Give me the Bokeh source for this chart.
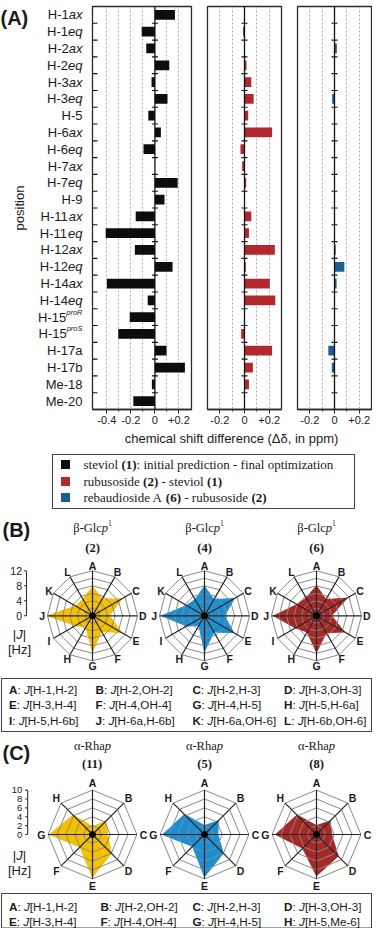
import math
import re
from collections import defaultdict
from bokeh.plotting import figure
from bokeh.layouts import column, row
from bokeh.models import Range1d, FixedTicker, CustomJSTickFormatter, Span, ColumnDataSource
from bokeh.core.properties import value
from bokeh.embed import file_html
from bokeh.resources import INLINE

# ---------------- data ----------------
positions = ["H-1ax", "H-1eq", "H-2ax", "H-2eq", "H-3ax", "H-3eq", "H-5", "H-6ax", "H-6eq",
             "H-7ax", "H-7eq", "H-9", "H-11ax", "H-11eq", "H-12ax", "H-12eq", "H-14ax",
             "H-14eq", "H-15proR", "H-15proS", "H-17a", "H-17b", "Me-18", "Me-20"]
steviol_pred_minus_opt = [0.167, -0.11, -0.072, 0.12, -0.028, 0.105, -0.055, 0.05, -0.095, 0.0,
                          0.19, 0.08, -0.16, -0.41, -0.167, 0.147, -0.40, -0.06, -0.21, -0.305,
                          0.097, 0.25, -0.025, -0.18]
rubusoside_minus_steviol = [0.0, -0.012, 0.0, 0.016, 0.055, 0.074, 0.03, 0.224, -0.033, -0.019,
                            0.014, 0.003, 0.055, 0.036, 0.246, 0.011, 0.205, 0.25, 0.004, -0.027,
                            0.224, 0.068, 0.036, 0.003]
rebA_minus_rubusoside = [0.0, 0.004, 0.019, 0.0, 0.0, -0.019, 0.0, 0.0, 0.0, 0.003, 0.0, 0.003,
                         0.004, 0.003, 0.01, 0.08, 0.017, 0.003, 0.0, 0.002, -0.05, -0.022, 0.0, 0.0]
legend_labels = ["steviol (1): initial prediction - final optimization",
                 "rubusoside (2) - steviol (1)",
                 "rebaudioside A (6) - rubusoside (2)"]
x_title = "chemical shift difference (\u0394\u03b4, in ppm)"

glc_axes = list("ABCDEFGHIJKL")
glc_couplings = ["H-1,H-2", "H-2,OH-2", "H-2,H-3", "H-3,OH-3", "H-3,H-4", "H-4,OH-4",
                 "H-4,H-5", "H-5,H-6a", "H-5,H-6b", "H-6a,H-6b", "H-6a,OH-6", "H-6b,OH-6"]
glc_compounds = ["2", "4", "6"]
glc_2 = [7.8, 5.2, 9.0, 4.5, 9.0, 4.8, 9.6, 3.5, 5.2, 12.0, 5.2, 5.1]
glc_4 = [7.9, 5.0, 9.2, 5.3, 9.0, 5.0, 9.5, 3.0, 5.5, 11.4, 5.5, 5.0]
glc_6 = [8.0, 5.0, 9.4, 4.0, 8.6, 5.2, 9.7, 5.0, 6.5, 11.4, 6.0, 5.5]
glc_scale = [0, 4, 8, 12]

rha_axes = list("ABCDEFGH")
rha_couplings = ["H-1,H-2", "H-2,OH-2", "H-2,H-3", "H-3,OH-3", "H-3,H-4", "H-4,OH-4",
                 "H-4,H-5", "H-5,Me-6"]
rha_compounds = ["11", "5", "8"]
rha_11 = [1.8, 4.2, 3.4, 6.0, 9.6, 4.0, 9.7, 6.2]
rha_5 = [2.0, 4.4, 3.0, 6.0, 9.5, 3.8, 9.4, 6.4]
rha_8 = [2.0, 4.3, 3.4, 6.9, 9.3, 4.4, 9.2, 6.2]
rha_scale = [0, 2, 4, 6, 8, 10]

# ---------------- style ----------------
SANS_F = "Liberation Sans"
SERIF_F = "Liberation Serif"
TXT = "#1a1a1a"
BLACK, RED, BLUE = "#0d0d0d", "#B3282D", "#1B5E8F"
RADAR_COLORS = ["#F5C000", "#1A8FD3", "#A82828"]

SANS = {' ': 278, '(': 333, ')': 333, ',': 278, '-': 333, '.': 278, ':': 278, '[': 278,
        ']': 278, '|': 260, '+': 584}
for _d in "0123456789":
    SANS[_d] = 556
SANS.update(dict(A=667, B=667, C=722, D=722, E=667, F=611, G=778, H=722, I=278, J=500, K=667,
                 L=556, M=833, N=722, O=778, P=667, Q=778, R=722, S=667, T=611, U=722, V=667,
                 W=944, X=667, Y=667, Z=611))
SANS.update(dict(a=556, b=556, c=500, d=556, e=556, f=278, g=556, h=556, i=222, j=222, k=500,
                 l=222, m=833, n=556, o=556, p=556, q=556, r=333, s=500, t=278, u=556, v=500,
                 w=722, x=500, y=500, z=500))
SANS_BOLD = dict(SANS)
SANS_BOLD.update(dict(A=722, B=722, C=722, D=722, E=667, F=611, G=778, H=722, I=278, J=556,
                      K=722, L=611))
SERIF = {' ': 250, '(': 333, ')': 333, ',': 250, '-': 333, '.': 250, ':': 278,
         '\u03b1': 530, '\u03b2': 500}
for _d in "0123456789":
    SERIF[_d] = 500
SERIF.update(dict(A=722, B=667, C=667, D=722, E=611, F=556, G=722, H=722, I=333, J=389, K=722,
                  L=611, M=889, N=722, O=722, P=556, Q=722, R=667, S=556, T=611, U=722, V=722,
                  W=944, X=722, Y=722, Z=611))
SERIF.update(dict(a=444, b=500, c=444, d=500, e=444, f=333, g=500, h=500, i=278, j=278, k=500,
                  l=278, m=778, n=500, o=500, p=500, q=500, r=333, s=389, t=278, u=500, v=500,
                  w=722, x=500, y=500, z=444))


def tw(s, fam, style, size):
    if fam == SERIF_F:
        table = SERIF
    else:
        table = SANS_BOLD if "bold" in style else SANS
    return sum(table.get(c, 550) for c in s) / 1000.0 * size


class TextBatch:
    def __init__(self):
        self.groups = defaultdict(lambda: {"x": [], "y": [], "text": []})

    def add(self, x, y, s, fam, style, size, dy=0, align="left", baseline="middle",
            angle=0.0, rn="default", color=TXT):
        key = (fam, style, size, dy, align, baseline, angle, rn, color)
        g = self.groups[key]
        g["x"].append(x)
        g["y"].append(y)
        g["text"].append(s)

    def render(self, p):
        for (fam, style, size, dy, align, baseline, angle, rn, color), g in self.groups.items():
            kw = {}
            if rn != "default":
                kw = dict(x_range_name=rn, y_range_name=rn)
            p.text(x="x", y="y", text="text", source=ColumnDataSource(dict(g)),
                   text_font=value(fam), text_font_style=value(style),
                   text_font_size=value(f"{size}px"), text_color=color,
                   text_align=value(align), text_baseline=value(baseline),
                   y_offset=dy, angle=angle, **kw)


def draw_segments(batch, x, y, segs, align="left", baseline="middle"):
    widths = [tw(t, f, st, sz) for (t, f, st, sz, dy) in segs]
    total = sum(widths)
    if align == "left":
        cx = x
    elif align == "center":
        cx = x - total / 2.0
    else:
        cx = x - total
    for (t, f, st, sz, dy), w in zip(segs, widths):
        stripped = t.lstrip(" ")
        lead = tw(t[:len(t) - len(stripped)], f, st, sz)
        if stripped.strip():
            batch.add(cx + lead, y, stripped, f, st, sz, dy=dy, baseline=baseline)
        cx += w


# ---------------- panel A ----------------
n = len(positions)
HA, TOP, BOT = 430, 6, 21
yr = Range1d(n - 0.5, -0.5)
bounds = [i + 0.5 for i in range(n - 1)]

FMT = """
if (Math.abs(tick) < 1e-9) { return "0"; }
return (tick > 0 ? "+" : "") + tick.toFixed(1);
"""


def bar_panel(width, xr, bl, br, major, minor, grid, vals, color, left_ticks=False):
    p = figure(width=width, height=HA, x_range=Range1d(*xr), y_range=yr,
               y_axis_location=None, toolbar_location=None, output_backend="svg",
               min_border_left=bl, min_border_right=br, min_border_top=TOP,
               min_border_bottom=BOT, outline_line_color="#2a2a2a", outline_line_width=1.3)
    pxu = (width - bl - br) / (xr[1] - xr[0])
    ax = p.xaxis[0]
    ax.ticker = FixedTicker(ticks=major, minor_ticks=minor)
    ax.formatter = CustomJSTickFormatter(code=FMT)
    ax.axis_line_color = "#2a2a2a"
    ax.axis_line_width = 1.3
    ax.major_tick_line_color = "#2a2a2a"
    ax.major_tick_out = 4
    ax.major_tick_in = 0
    ax.minor_tick_line_color = "#2a2a2a"
    ax.minor_tick_out = 2
    ax.minor_tick_in = 0
    ax.major_label_text_font = SANS_F
    ax.major_label_text_font_size = "11px"
    ax.major_label_text_color = TXT
    ax.major_label_standoff = 2
    p.xgrid.ticker = FixedTicker(ticks=grid)
    p.xgrid.grid_line_color = "#9a9a9a"
    p.xgrid.grid_line_dash = "2 2"
    p.xgrid.grid_line_width = 0.8
    p.ygrid.visible = False
    p.hbar(y=list(range(n)), left=0, right=vals, height=0.58, fill_color=color,
           line_color=None)
    p.add_layout(Span(location=0, dimension="height", line_color="#111111", line_width=1.3))
    d = 3.0 / pxu
    p.segment(x0=[-d] * len(bounds), x1=[d] * len(bounds), y0=bounds, y1=bounds,
              line_color="#111111", line_width=1.1)
    if left_ticks:
        p.segment(x0=[xr[0]] * len(bounds), x1=[xr[0] + 5.0 / pxu] * len(bounds),
                  y0=bounds, y1=bounds, line_color="#111111", line_width=1.1)
    return p


A1 = bar_panel(108, (-0.52, 0.305), 1, 8, [-0.4, -0.2, 0, 0.2], [-0.3, -0.1, 0.1],
               [-0.4, -0.3, -0.2, -0.1, 0.1, 0.2], steviol_pred_minus_opt, BLACK, True)
A2 = bar_panel(90, (-0.3, 0.3), 8, 8, [-0.2, 0, 0.2], [-0.1, 0.1],
               [-0.2, -0.1, 0.1, 0.2], rubusoside_minus_steviol, RED)
A3 = bar_panel(83, (-0.3, 0.3), 8, 1, [-0.2, 0, 0.2], [-0.1, 0.1],
               [-0.2, -0.1, 0.1, 0.2], rebA_minus_rubusoside, BLUE)

LW = 91
L = figure(width=LW, height=HA, x_range=Range1d(0, LW), y_range=yr, x_axis_location=None,
           y_axis_location=None, toolbar_location=None, output_backend="svg",
           min_border_left=0, min_border_right=0, min_border_top=TOP, min_border_bottom=BOT,
           outline_line_color=None)
L.grid.visible = False
lb = TextBatch()
LAB_FS = 13
for i, lab in enumerate(positions):
    if "pro" in lab:
        base, sup = lab.split("pro")
        segs = [(base, SANS_F, "normal", LAB_FS, 0), ("pro" + sup, SANS_F, "italic", 7.5, -5)]
    elif lab.endswith("ax") or lab.endswith("eq"):
        segs = [(lab[:-2], SANS_F, "normal", LAB_FS, 0), (lab[-2:], SANS_F, "italic", LAB_FS, 0)]
    else:
        segs = [(lab, SANS_F, "normal", LAB_FS, 0)]
    draw_segments(lb, 82, i, segs, align="right")
lb.add(19, (n - 1) / 2.0, "position", SANS_F, "normal", 13, align="center",
       angle=math.pi / 2)
lb.add(0, -0.5, "(A)", SANS_F, "bold", 20, baseline="top")
lb.render(L)

# ---------------- rest (legend A, panels B and C) ----------------
RW, RH, Y0 = 372, 498, 430
rest = figure(width=RW, height=RH, x_range=Range1d(0, RW), y_range=Range1d(Y0 + RH, Y0),
              x_axis_location=None, y_axis_location=None, toolbar_location=None,
              output_backend="svg", min_border=0, min_border_left=0, min_border_right=0,
              min_border_top=0, min_border_bottom=0, outline_line_color=None)
rest.grid.visible = False
tb = TextBatch()

# x axis title of panel A
tb.add(231, 438, x_title, SANS_F, "normal", 13, align="center")

# legend A
rest.quad(left=[52], right=[354], top=[454], bottom=[508], fill_color=None,
          line_color="#444444", line_width=1.1)
leg_rows = [464, 481, 497]
rest.rect(x=[65] * 3, y=leg_rows, width=9, height=9, fill_color=[BLACK, RED, BLUE],
          line_color=None)
for yy, lab in zip(leg_rows, legend_labels):
    parts = [s for s in re.split(r"(\(\d+\))", lab) if s]
    segs = [(s, SERIF_F, "bold" if re.fullmatch(r"\(\d+\)", s) else "normal", 13, 0)
            for s in parts]
    draw_segments(tb, 83, yy, segs)

RADAR_X = [92.0, 204.0, 316.0]
RB_Y, SB = 615.3, 45.0 / 12.0
RC_Y, SC = 834.0, 44.4 / 10.0

ex, ey = {}, {}
for i, cx in enumerate(RADAR_X):
    ex[f"b{i}"] = Range1d((0 - cx) / SB, (RW - cx) / SB)
    ey[f"b{i}"] = Range1d((RB_Y - (Y0 + RH)) / SB, (RB_Y - Y0) / SB)
    ex[f"c{i}"] = Range1d((0 - cx) / SC, (RW - cx) / SC)
    ey[f"c{i}"] = Range1d((RC_Y - (Y0 + RH)) / SC, (RC_Y - Y0) / SC)
rest.extra_x_ranges = ex
rest.extra_y_ranges = ey


def radar(rn, vals, color, axes, rmax, step, label_r):
    k = len(vals)
    ang = [math.pi / 2 - 2 * math.pi * i / k for i in range(k)]
    xs = [v * math.cos(a) for v, a in zip(vals, ang)]
    ys = [v * math.sin(a) for v, a in zip(vals, ang)]
    rest.patch(x=xs, y=ys, fill_color=color, line_color=color, line_width=1,
               x_range_name=rn, y_range_name=rn)
    rings = list(range(step, rmax + 1, step))
    closed = ang + [ang[0]]
    rest.multi_line(xs=[[r * math.cos(a) for a in closed] for r in rings],
                    ys=[[r * math.sin(a) for a in closed] for r in rings],
                    line_color="#8a8a8a", line_width=1, x_range_name=rn, y_range_name=rn)
    rest.segment(x0=[0] * k, y0=[0] * k, x1=[rmax * math.cos(a) for a in ang],
                 y1=[rmax * math.sin(a) for a in ang], line_color="#262626", line_width=1.2,
                 x_range_name=rn, y_range_name=rn)
    rest.scatter(x=[0], y=[0], size=6, color="#000000", x_range_name=rn, y_range_name=rn)
    for a, lab in zip(ang, axes):
        tb.add(label_r * math.cos(a), label_r * math.sin(a), lab, SANS_F, "bold", 10.5,
               align="center", rn=rn)


def scale(rn, ticks, xline, lab_x, fs, s):
    rest.segment(x0=[xline], x1=[xline], y0=[min(ticks)], y1=[max(ticks)],
                 line_color="#333333", line_width=1.1, x_range_name=rn, y_range_name=rn)
    rest.segment(x0=[xline] * len(ticks), x1=[xline - 2.5 / s] * len(ticks), y0=ticks,
                 y1=ticks, line_color="#333333", line_width=1.1, x_range_name=rn,
                 y_range_name=rn)
    for t in ticks:
        tb.add(lab_x, t, str(t), SANS_F, "normal", fs, align="right", rn=rn)


def unit_label(y1, y2):
    draw_segments(tb, 19, y1, [("|", SANS_F, "normal", 13, 0), ("J", SANS_F, "italic", 13, 0),
                               ("|", SANS_F, "normal", 13, 0)], align="center")
    tb.add(19, y2, "[Hz]", SANS_F, "normal", 13, align="center")


def legend_box(top, bottom, rows, cols, axes, couplings, fs):
    rest.quad(left=[1], right=[371], top=[top], bottom=[bottom], fill_color=None,
              line_color="#444444", line_width=1.1)
    for j, (lab, cp) in enumerate(zip(axes, couplings)):
        segs = [(lab, SANS_F, "bold", fs, 0), (": ", SANS_F, "normal", fs, 0),
                ("J", SANS_F, "italic", fs, 0), ("[" + cp + "]", SANS_F, "normal", fs, 0)]
        draw_segments(tb, cols[j % 4], rows[j // 4], segs)


# panel B
tb.add(2, 529, "(B)", SANS_F, "bold", 20)
for i, (cx, cmp_, vals) in enumerate(zip(RADAR_X, glc_compounds, [glc_2, glc_4, glc_6])):
    draw_segments(tb, cx, 527, [("\u03b2-Glc", SERIF_F, "normal", 12.5, 0),
                                ("p", SERIF_F, "italic", 12.5, 0),
                                ("1", SERIF_F, "normal", 7.5, -5)], align="center")
    draw_segments(tb, cx, 547, [("(" + cmp_ + ")", SERIF_F, "bold", 12.5, 0)], align="center")
    radar(f"b{i}", vals, RADAR_COLORS[i], glc_axes, 12, 2, 13.4)
scale("b0", glc_scale, -17.6, -18.8, 10.5, SB)
unit_label(633.7, 648.7)
legend_box(678, 731, [688.7, 704.3, 719.7], [8.5, 95.0, 191.9, 283.6], glc_axes,
           glc_couplings, 11.7)

# panel C
tb.add(2, 752, "(C)", SANS_F, "bold", 20)
for i, (cx, cmp_, vals) in enumerate(zip(RADAR_X, rha_compounds, [rha_11, rha_5, rha_8])):
    draw_segments(tb, cx, 745, [("\u03b1-Rha", SERIF_F, "normal", 12.5, 0),
                                ("p", SERIF_F, "italic", 12.5, 0)], align="center")
    draw_segments(tb, cx, 763, [("(" + cmp_ + ")", SERIF_F, "bold", 12.5, 0)], align="center")
    radar(f"c{i}", vals, RADAR_COLORS[i], rha_axes, 10, 2, 11.5)
scale("c0", rha_scale, -14.6, -15.8, 9.5, SC)
unit_label(855, 869.7)
legend_box(893, 927.5, [906, 920.5], [8.5, 99.9, 191.9, 283.6], rha_axes, rha_couplings, 11.7)

tb.render(rest)

layout = column(row(L, A1, A2, A3), rest)
open("out.html", "w").write(file_html(layout, INLINE))
